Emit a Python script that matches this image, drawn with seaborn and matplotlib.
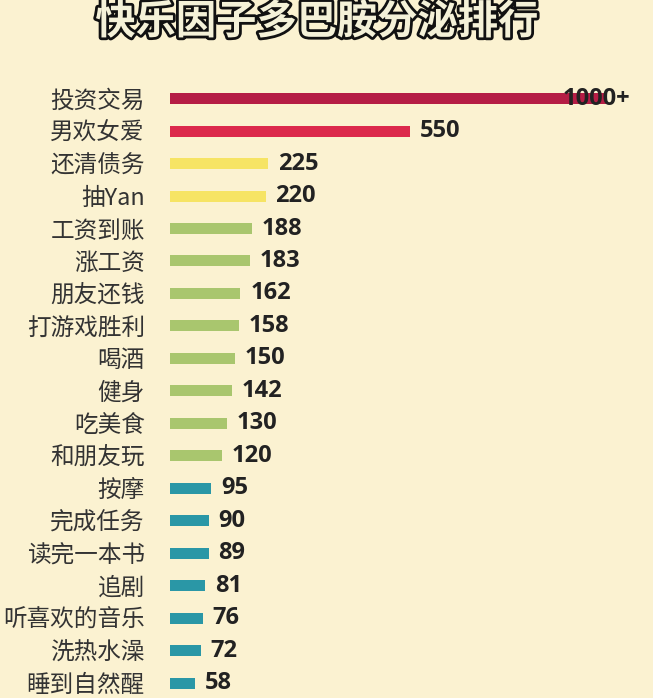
import pandas as pd
import seaborn as sns
import matplotlib.pyplot as plt
import matplotlib.patheffects as pe

# datos del ranking
activities = ['投资交易', '男欢女爱', '还清债务', '抽Yan', '工资到账', '涨工资', '朋友还钱',
              '打游戏胜利', '喝酒', '健身', '吃美食', '和朋友玩', '按摩', '完成任务',
              '读完一本书', '追剧', '听喜欢的音乐', '洗热水澡', '睡到自然醒']
values = [1000, 550, 225, 220, 188, 183, 162, 158, 150, 142, 130, 120, 95, 90, 89, 81, 76, 72, 58]
value_labels = ['1000+', '550', '225', '220', '188', '183', '162', '158', '150', '142',
                '130', '120', '95', '90', '89', '81', '76', '72', '58']
bar_colors = ['#b51d45', '#dc2a4c'] + ['#f6e464'] * 2 + ['#a9c66e'] * 8 + ['#2a97a6'] * 7

bg = '#fbf2d1'
df = pd.DataFrame({'activity': activities, 'value': values})

fig = plt.figure(figsize=(6.53, 6.98), dpi=100, facecolor=bg)
ax = fig.add_axes([0.26, -0.002, 0.722, 0.884])
ax.set_facecolor(bg)

sns.barplot(data=df, x='value', y='activity', hue='activity', palette=bar_colors,
            legend=False, width=0.34, ax=ax, saturation=1)

ax.set_xlim(0, 1080)
ax.set_xlabel('')
ax.set_ylabel('')
ax.set_xticks([])
ax.tick_params(axis='y', length=0, pad=18)
ax.set_yticks(range(len(activities)))
ax.set_yticklabels(activities, fontsize=17, color='#333333', family=['Noto Sans CJK SC', 'DejaVu Sans'])
for s in ax.spines.values():
    s.set_visible(False)

# etiquetas de valor
for i, (v, lab) in enumerate(zip(values, value_labels)):
    x = v - 100 if i == 0 else v + 22
    ax.text(x, i, lab, va='center', ha='left', fontsize=17, fontweight='bold',
            color='#222222', family='Open Sans')

# titulo con contorno
fig.text(0.485, 0.968, '快乐因子多巴胺分泌排行', ha='center', va='center', fontsize=29,
         fontweight='bold', color='#f4f1d8', family=['Noto Sans CJK SC', 'DejaVu Sans'],
         path_effects=[pe.withStroke(linewidth=4, foreground='#111111')])

fig.savefig('out.png', dpi=100, facecolor=bg)
